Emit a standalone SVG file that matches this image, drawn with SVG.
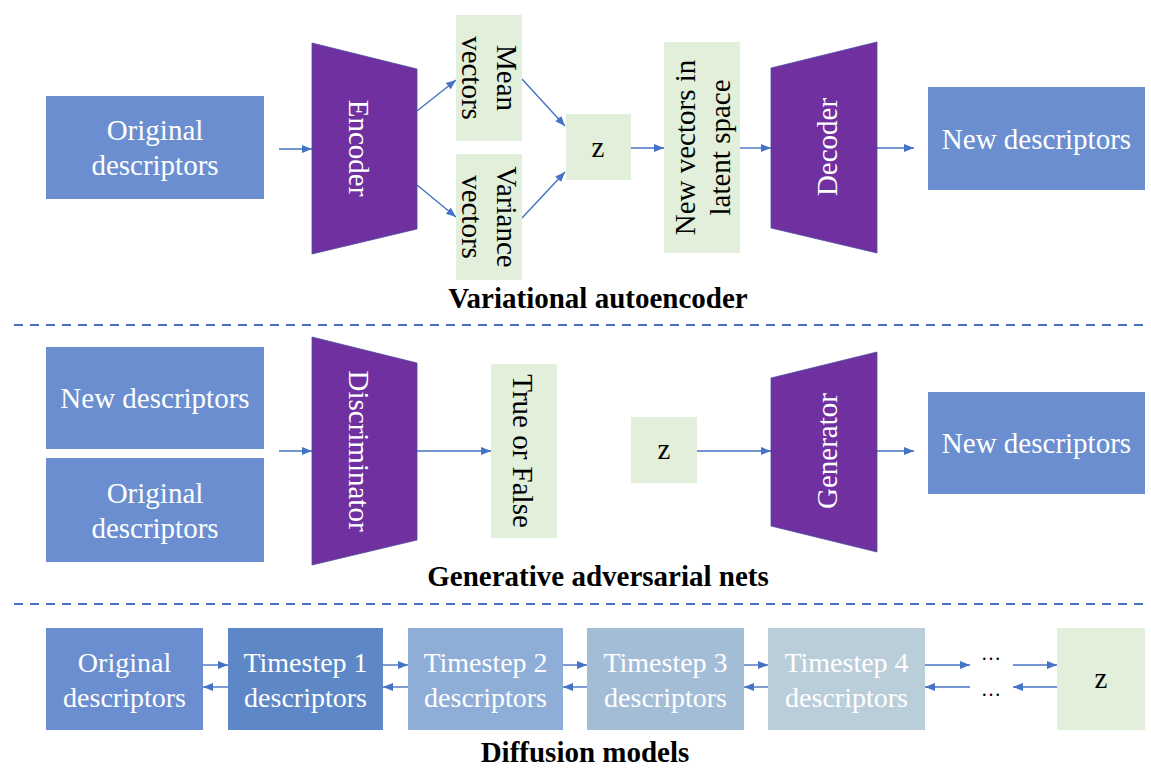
<svg xmlns="http://www.w3.org/2000/svg" width="1151" height="769" viewBox="0 0 1151 769">
<style>
.t{font-family:"Liberation Serif","Times New Roman",serif;font-size:29px;text-anchor:middle}
.w{fill:#ffffff}
.k{fill:#000000}
.d{font-size:28px}
.title{font-family:"Liberation Serif","Times New Roman",serif;font-size:29px;font-weight:bold;text-anchor:middle;fill:#000}
.blue{fill:#6A8ED0}
.green{fill:#E2EFDA}
.trap{fill:#7030A0;stroke:#4A4FA0;stroke-width:0.8}
.arr{stroke:#4472C4;stroke-width:1.4;fill:none;marker-end:url(#ah)}
.dash{stroke:#4472C4;stroke-width:2;stroke-dasharray:9 7;fill:none}
</style>
<defs>
<marker id="ah" markerUnits="userSpaceOnUse" markerWidth="10" markerHeight="8" refX="10" refY="4" orient="auto">
<path d="M0,0 L10,4 L0,8 z" fill="#4472C4"/>
</marker>
</defs>
<rect width="1151" height="769" fill="#ffffff"/>

<g id="connectors">
<line class="arr" x1="279" y1="149" x2="312" y2="149"/>
<line class="arr" x1="417" y1="111" x2="456" y2="80"/>
<line class="arr" x1="417" y1="185" x2="456" y2="217"/>
<line class="arr" x1="522" y1="79" x2="565" y2="126"/>
<line class="arr" x1="522" y1="218" x2="565" y2="172"/>
<line class="arr" x1="631" y1="148" x2="664" y2="148"/>
<line class="arr" x1="740" y1="148" x2="771" y2="148"/>
<line class="arr" x1="877" y1="148" x2="914" y2="148"/>
<line class="arr" x1="279" y1="451" x2="312" y2="451"/>
<line class="arr" x1="417" y1="451" x2="491" y2="451"/>
<line class="arr" x1="697" y1="451" x2="771" y2="451"/>
<line class="arr" x1="877" y1="451" x2="914" y2="451"/>
<line class="arr" x1="203" y1="665" x2="228" y2="665"/>
<line class="arr" x1="228" y1="687" x2="203" y2="687"/>
<line class="arr" x1="383" y1="665" x2="408" y2="665"/>
<line class="arr" x1="408" y1="687" x2="383" y2="687"/>
<line class="arr" x1="563" y1="665" x2="587" y2="665"/>
<line class="arr" x1="587" y1="687" x2="563" y2="687"/>
<line class="arr" x1="744" y1="665" x2="768" y2="665"/>
<line class="arr" x1="768" y1="687" x2="744" y2="687"/>
<line class="arr" x1="925" y1="665" x2="970" y2="665"/>
<line class="arr" x1="1013" y1="665" x2="1057" y2="665"/>
<line class="arr" x1="1057" y1="687" x2="1013" y2="687"/>
<line class="arr" x1="970" y1="687" x2="925" y2="687"/>
</g>

<g id="separators">
<line class="dash" x1="14" y1="325" x2="1148" y2="325"/>
<line class="dash" x1="14" y1="604" x2="1148" y2="604"/>
</g>

<!-- VAE -->
<g id="vae-original">
<rect class="blue" x="46" y="96" width="218" height="103"/>
<text class="t w" x="155" y="140">Original</text>
<text class="t w" x="155" y="175">descriptors</text>
</g>
<g id="vae-encoder">
<polygon class="trap" points="312,43 417,69 417,229 312,254"/>
<text class="t w" transform="translate(359,148) rotate(90)" x="0" y="10">Encoder</text>
</g>
<g id="vae-mean">
<rect class="green" x="456" y="15" width="66" height="126"/>
<text class="t k" transform="translate(489,78) rotate(90)" x="0" y="-7.5">Mean</text>
<text class="t k" transform="translate(489,78) rotate(90)" x="0" y="27.5">vectors</text>
</g>
<g id="vae-variance">
<rect class="green" x="456" y="154" width="66" height="126"/>
<text class="t k" transform="translate(489,217) rotate(90)" x="0" y="-7.5">Variance</text>
<text class="t k" transform="translate(489,217) rotate(90)" x="0" y="27.5">vectors</text>
</g>
<g id="vae-z">
<rect class="green" x="566" y="114" width="65" height="66"/>
<text class="t k" x="598" y="157">z</text>
</g>
<g id="vae-latent">
<rect class="green" x="664" y="42" width="76" height="211"/>
<text class="t k" transform="translate(702,147.5) rotate(-90)" x="0" y="-7.5">New vectors in</text>
<text class="t k" transform="translate(702,147.5) rotate(-90)" x="0" y="27.5">latent space</text>
</g>
<g id="vae-decoder">
<polygon class="trap" points="771,68 877,42 877,253 771,228"/>
<text class="t w" transform="translate(827,147) rotate(-90)" x="0" y="10">Decoder</text>
</g>
<g id="vae-new">
<rect class="blue" x="928" y="87" width="217" height="103"/>
<text class="t w" x="1036.5" y="149">New descriptors</text>
</g>
<text class="title" x="598" y="308">Variational autoencoder</text>

<!-- GAN -->
<g id="gan-new-left">
<rect class="blue" x="46" y="347" width="218" height="102"/>
<text class="t w" x="155" y="408">New descriptors</text>
</g>
<g id="gan-original">
<rect class="blue" x="46" y="458" width="218" height="104"/>
<text class="t w" x="155" y="503">Original</text>
<text class="t w" x="155" y="538">descriptors</text>
</g>
<g id="gan-discriminator">
<polygon class="trap" points="312,337 417,363 417,540 312,565"/>
<text class="t w" transform="translate(359,451) rotate(90)" x="0" y="10">Discriminator</text>
</g>
<g id="gan-truefalse">
<rect class="green" x="491" y="364" width="66" height="174"/>
<text class="t k" transform="translate(523,451) rotate(90)" x="0" y="10">True or False</text>
</g>
<g id="gan-z">
<rect class="green" x="631" y="417" width="66" height="66"/>
<text class="t k" x="664" y="459">z</text>
</g>
<g id="gan-generator">
<polygon class="trap" points="771,378 877,352 877,552 771,526"/>
<text class="t w" transform="translate(827,451) rotate(-90)" x="0" y="10">Generator</text>
</g>
<g id="gan-new-right">
<rect class="blue" x="928" y="392" width="217" height="102"/>
<text class="t w" x="1036.5" y="453">New descriptors</text>
</g>
<text class="title" x="598" y="586">Generative adversarial nets</text>

<!-- Diffusion -->
<g id="diff-original">
<rect x="46" y="628" width="157" height="102" fill="#6A8ED0"/>
<text class="t w d" x="124.5" y="672">Original</text>
<text class="t w d" x="124.5" y="707">descriptors</text>
</g>
<g id="diff-t1">
<rect x="228" y="628" width="155" height="102" fill="#5D87C6"/>
<text class="t w d" x="305.5" y="672">Timestep 1</text>
<text class="t w d" x="305.5" y="707">descriptors</text>
</g>
<g id="diff-t2">
<rect x="408" y="628" width="155" height="102" fill="#8FAED7"/>
<text class="t w d" x="485.5" y="672">Timestep 2</text>
<text class="t w d" x="485.5" y="707">descriptors</text>
</g>
<g id="diff-t3">
<rect x="587" y="628" width="157" height="102" fill="#A4BDD7"/>
<text class="t w d" x="665.5" y="672">Timestep 3</text>
<text class="t w d" x="665.5" y="707">descriptors</text>
</g>
<g id="diff-t4">
<rect x="768" y="628" width="157" height="102" fill="#BACEDA"/>
<text class="t w d" x="846.5" y="672">Timestep 4</text>
<text class="t w d" x="846.5" y="707">descriptors</text>
</g>
<g id="diff-dots">
<text class="t k" style="font-size:20px" x="991" y="660">…</text>
<text class="t k" style="font-size:20px" x="991" y="696">…</text>
</g>
<g id="diff-z">
<rect class="green" x="1057" y="628" width="88" height="102"/>
<text class="t k" x="1101" y="688">z</text>
</g>
<text class="title" x="585" y="762">Diffusion models</text>
</svg>
